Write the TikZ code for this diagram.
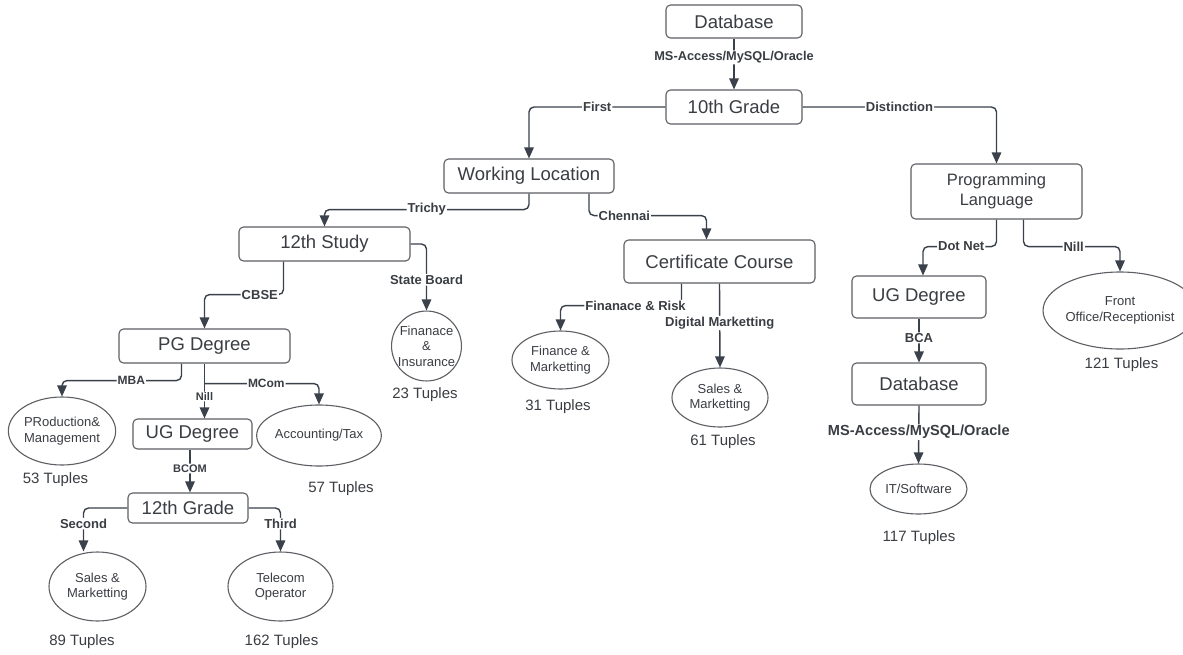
\documentclass[tikz,border=0pt]{standalone}
\usepackage{fontspec}
\setmainfont{Liberation Sans}
\usetikzlibrary{shapes.geometric,arrows.meta}
\definecolor{ink}{HTML}{3A3D42}
\definecolor{edgec}{HTML}{3A414A}
\definecolor{frame}{HTML}{5C5F63}
\tikzset{
  box/.style={draw=frame, line width=1.1pt, rounded corners=4.5pt, text=ink,
    inner sep=0pt, align=center, font=\fontsize{18.5}{20}\selectfont},
  leaf/.style={ellipse, draw=frame, line width=1.1pt, text=ink, inner sep=0pt,
    align=center, font=\fontsize{13}{15.5}\selectfont},
  link/.style={draw=edgec, line width=1.4pt, rounded corners=5pt,
    -{Triangle[length=11pt,width=9.5pt]}},
  lab/.style={fill=white, text=ink, inner sep=1pt, font=\bfseries\fontsize{13}{14}\selectfont},
  count/.style={text=ink, font=\fontsize{15}{16}\selectfont},
}
\begin{document}
\begin{tikzpicture}[x=1pt,y=-1pt]
\fill[white] (0,0) rectangle (1183,654);
\useasboundingbox (0,0) rectangle (1183,654);

% decision boxes
\node[box, minimum width=136pt, minimum height=33pt] (db1) at (734,21.5) {Database};
\node[box, minimum width=136pt, minimum height=34pt] (g10) at (734,107) {10th Grade};
\node[box, minimum width=170pt, minimum height=34pt] (wl) at (529,176) {Working Location};
\node[box, minimum width=191pt, minimum height=43pt] (cc) at (719.5,261.5) {Certificate Course};
\node[box, minimum width=171pt, minimum height=34pt] (s12) at (324.5,244) {12th Study};
\node[box, minimum width=171pt, minimum height=34pt] (pg) at (204.5,346) {PG Degree};
\node[box, minimum width=119pt, minimum height=30pt] (ug1) at (192.5,434) {UG Degree};
\node[box, minimum width=120pt, minimum height=30pt] (g12) at (188,508) {12th Grade};
\node[box, minimum width=171pt, minimum height=55pt, font=\fontsize{16.5}{20}\selectfont] (pl) at (996.5,191.5) {Programming\\Language};
\node[box, minimum width=134pt, minimum height=42pt] (ug2) at (919,297) {UG Degree};
\node[box, minimum width=134pt, minimum height=42pt] (db2) at (919,384) {Database};

% outcome leaves
\node[leaf, circle, minimum size=68pt] (fi) at (426.5,346) {Finanace\\\&\\Insurance};
\node[leaf, minimum width=106pt, minimum height=68pt] (pm) at (62,431) {PRoduction\&\\Management};
\node[leaf, minimum width=98pt, minimum height=61pt] (at) at (319,435.5) {Accounting/Tax};
\node[leaf, minimum width=97pt, minimum height=69pt] (sm1) at (97.5,586.5) {Sales \&\\Marketting};
\node[leaf, minimum width=105pt, minimum height=69pt] (to) at (280.5,586.5) {Telecom\\Operator};
\node[leaf, minimum width=97pt, minimum height=58pt] (fm) at (560.5,360) {Finance \&\\Marketting};
\node[leaf, minimum width=96pt, minimum height=59pt] (sm2) at (720,397.5) {Sales \&\\Marketting};
\node[leaf, minimum width=124pt, minimum height=77pt] (fo) at (1120,310.5) {Front\\Office/Receptionist};
\node[leaf, minimum width=97pt, minimum height=50pt] (it) at (918.5,489) {IT/Software};

% tuple counts
\node[count] (c23) at (425,395) {23 Tuples};
\node[count] (c53) at (55.5,480) {53 Tuples};
\node[count] (c57) at (341,489) {57 Tuples};
\node[count] (c89) at (82,642) {89 Tuples};
\node[count] (c162) at (281.5,642) {162 Tuples};
\node[count] (c31) at (558,407) {31 Tuples};
\node[count] (c61) at (723,442) {61 Tuples};
\node[count] (c121) at (1121.5,365) {121 Tuples};
\node[count] (c117) at (919,538) {117 Tuples};

% connectors
\draw[link] (db1) -- node[lab, pos=0.37, font=\bfseries\fontsize{12.8}{14}\selectfont] {MS-Access/MySQL/Oracle} (g10);
\draw[link] (g10.west) -| node[lab, pos=0.25] {First} (wl.north);
\draw[link] (g10.east) -| node[lab, pos=0.25] {Distinction} (pl.north);
\draw[link] (wl.south) -- ++(0,16) -| node[lab, pos=0.25] {Trichy} (s12.north);
\draw[link] ([xshift=60pt]wl.south) -- ++(0,22) -| node[lab, pos=0.15] {Chennai} ([xshift=-13pt]cc.north);
\draw[link] (s12.east) -| node[lab, pos=0.77] {State Board} (fi.north);
\draw[link] ([xshift=-41pt]s12.south) -- ++(0,33) -| node[lab, pos=0.15] {CBSE} (pg.north);
\draw[link] ([xshift=-23pt]pg.south) -- ++(0,17) -| node[lab, pos=0.21, font=\bfseries\fontsize{12}{14}\selectfont] {MBA} (pm.north);
\draw[link] (pg.south) -- node[lab, pos=0.6, font=\bfseries\fontsize{11}{12}\selectfont] {Nill} (pg.south |- ug1.north);
\draw[link] ([yshift=-20pt]pg.south) -| node[lab, pos=0.27, font=\bfseries\fontsize{12}{14}\selectfont] {MCom} (at.north);
\draw[link] ([xshift=-2.5pt]ug1.south) -- node[lab, pos=0.44, font=\bfseries\fontsize{11}{12}\selectfont] {BCOM} ([xshift=-2.5pt]ug1.south |- g12.north);
\draw[link] (g12.west) -| node[lab, pos=0.68] {Second} ([xshift=-14pt]sm1.north);
\draw[link] (g12.east) -| node[lab, pos=0.68] {Third} (to.north);
\draw[link] ([xshift=-38pt]cc.south) -- ++(0,22) -| node[lab, pos=0.19] {Finanace \& Risk} (fm.north);
\draw[link] (cc.south) -- node[lab, pos=0.47] {Digital Marketting} (sm2.north);
\draw[link] (pl.south) -- ++(0,27) -| node[lab, pos=0.24] {Dot Net} ([xshift=4pt]ug2.north);
\draw[link] ([xshift=27pt]pl.south) -- ++(0,27) -| node[lab, pos=0.26] {Nill} (fo.north);
\draw[link] (ug2.south) -- node[lab, pos=0.44] {BCA} (db2.north);
\draw[link] (db2.south) -- node[lab, pos=0.46, font=\bfseries\fontsize{14.6}{16}\selectfont] {MS-Access/MySQL/Oracle} (it.north);
\end{tikzpicture}
\end{document}
